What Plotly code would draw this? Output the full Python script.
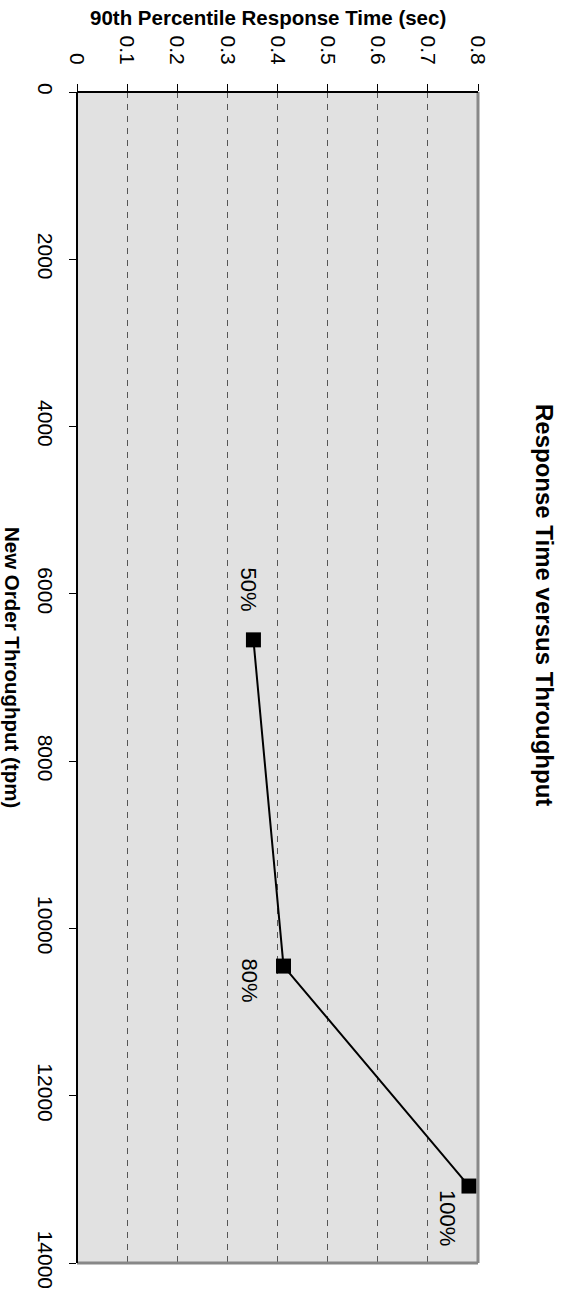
import plotly.graph_objects as go

# Data
throughput_tpm = [6550, 10450, 13080]
response_sec = [0.352, 0.412, 0.782]
load_labels = ["50%", "80%", "100%"]
response_ticks = [0, 0.1, 0.2, 0.3, 0.4, 0.5, 0.6, 0.7, 0.8]
throughput_ticks = [0, 2000, 4000, 6000, 8000, 10000, 12000, 14000]

W, H = 575, 1311
L, T = 77, 92
PW, PH = 401, 1171
R = W - L - PW
B = H - T - PH

FONT = "Liberation Sans, Arial, sans-serif"

fig = go.Figure()
fig.add_trace(go.Scatter(
    x=response_sec, y=throughput_tpm, mode="lines+markers",
    line=dict(color="black", width=2),
    marker=dict(symbol="square", size=15, color="black"),
    showlegend=False, hoverinfo="skip",
))

# point labels (rotated)
offsets = [(-5, 50), (-34, -14), (-21, -32)]
for xv, yv, lab, (dx, dy) in zip(response_sec, throughput_tpm, load_labels, offsets):
    fig.add_annotation(x=xv, y=yv, text=lab, showarrow=False, textangle=90,
                       xshift=dx, yshift=dy,
                       font=dict(family=FONT, size=22, color="black"))

fig.update_xaxes(
    range=[0, 0.8], side="top", tickvals=response_ticks,
    ticktext=[("%g" % v) for v in response_ticks],
    tickangle=90, ticks="outside", ticklen=7, tickcolor="black",
    ticklabelstandoff=12,
    showgrid=True, gridcolor="#555555", griddash="6px,6px", gridwidth=1,
    zeroline=False, showline=False,
    tickfont=dict(family=FONT, size=21, color="black"),
)
fig.update_yaxes(
    range=[14000, 0], tickvals=throughput_ticks,
    ticktext=[str(v) for v in throughput_ticks],
    tickangle=90, ticks="outside", ticklen=7, tickcolor="black",
    ticklabelstandoff=6,
    showgrid=False, zeroline=False, showline=False,
    tickfont=dict(family=FONT, size=21, color="black"),
)

# borders
fig.add_shape(type="line", xref="paper", yref="paper", x0=1, x1=1, y0=0, y1=1,
              line=dict(color="#888888", width=3))
fig.add_shape(type="line", xref="paper", yref="paper", x0=0, x1=1, y0=0, y1=0,
              line=dict(color="#888888", width=3))
fig.add_shape(type="line", xref="paper", yref="paper", x0=0, x1=0, y0=0, y1=1,
              line=dict(color="black", width=2))
fig.add_shape(type="line", xref="paper", yref="paper", x0=0, x1=1, y0=1, y1=1,
              line=dict(color="black", width=2))

def px_x(p):
    return (p - L) / PW
def px_y(p):
    return 1 - (p - T) / PH

fig.add_annotation(xref="paper", yref="paper", x=px_x(268), y=px_y(18),
                   xanchor="center", yanchor="middle",
                   text="<b>90th Percentile Response Time (sec)</b>", showarrow=False,
                   font=dict(family=FONT, size=20.5, color="black"))
fig.add_annotation(xref="paper", yref="paper", x=px_x(13), y=px_y(667),
                   xanchor="center", yanchor="middle",
                   text="<b>New Order Throughput (tpm)</b>", showarrow=False, textangle=90,
                   font=dict(family=FONT, size=20.5, color="black"))
fig.add_annotation(xref="paper", yref="paper", x=px_x(545), y=px_y(605),
                   xanchor="center", yanchor="middle",
                   text="<b>Response Time versus Throughput</b>", showarrow=False, textangle=90,
                   font=dict(family=FONT, size=24, color="black"))

fig.update_layout(
    width=W, height=H, margin=dict(l=L, r=R, t=T, b=B, autoexpand=False),
    plot_bgcolor="#e1e1e1", paper_bgcolor="white",
)

fig.write_html("out.html", config={"displayModeBar": False},
               post_script="document.body.style.margin='0';document.body.style.overflow='hidden';")
